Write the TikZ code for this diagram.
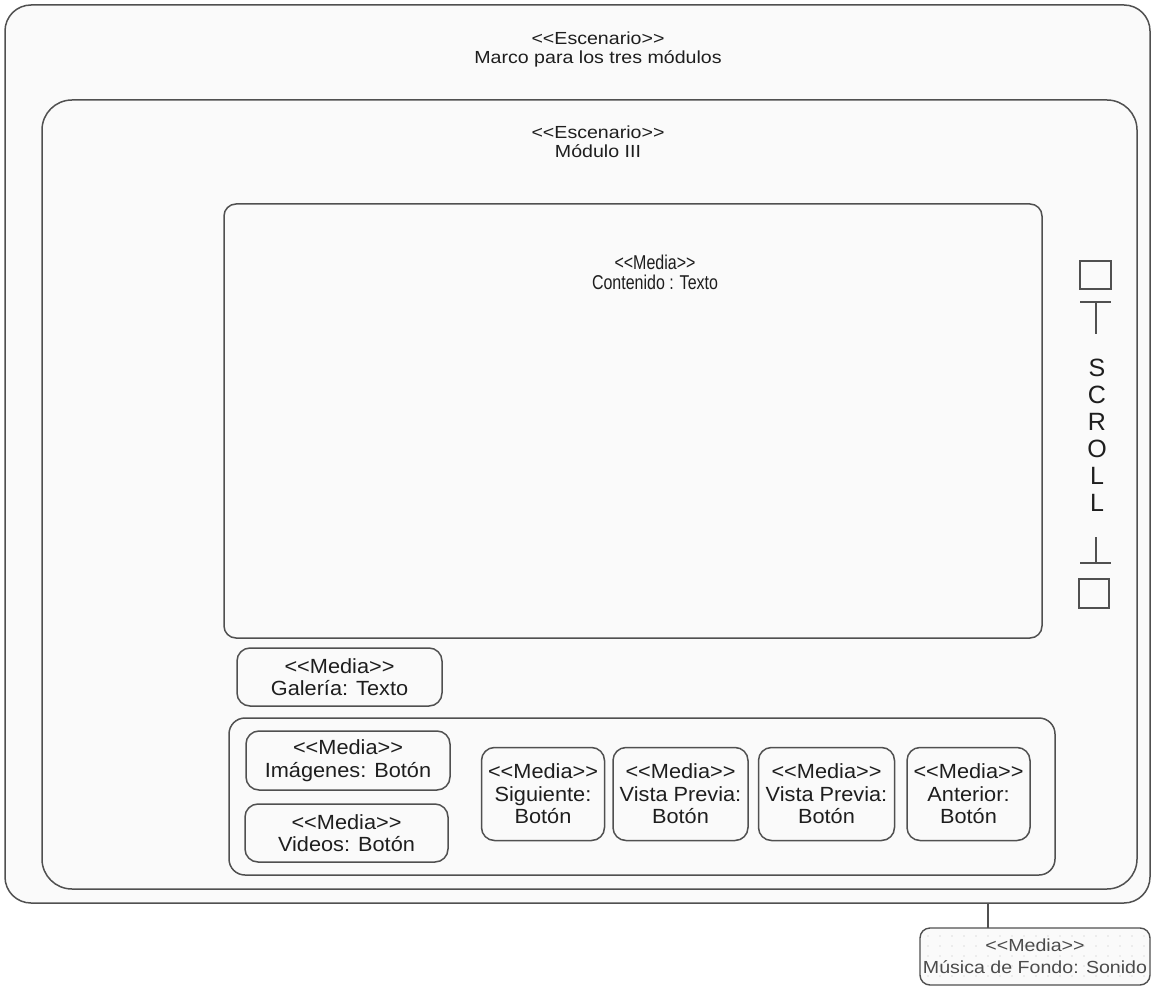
\documentclass[tikz,border=0pt]{standalone}
\usepackage{fontspec}
\setmainfont{Liberation Sans}
\newfontfamily\wideface[FakeStretch=1.12]{Liberation Sans}
\newfontfamily\mediaface[FakeStretch=1.06]{Liberation Sans}
\newfontfamily\narrowface[FakeStretch=0.8]{Liberation Sans}
\definecolor{linec}{HTML}{505050}
\definecolor{txt}{HTML}{1E1E1E}
\definecolor{bg}{HTML}{FAFAFA}
\definecolor{dotc}{HTML}{BEBEBE}
\tikzset{
  frame/.style={draw=linec, line width=1.5pt, fill=bg, inner sep=0pt},
  mediabox/.style={draw=linec, line width=1.5pt, fill=bg, inner sep=0pt,
    rounded corners=13pt, align=center, text=txt,
    font=\mediaface\fontsize{20.5}{22.5}\selectfont},
  title/.style={align=center, text=txt, inner sep=0pt,
    font=\wideface\fontsize{17.5}{19}\selectfont},
  scrollline/.style={draw=linec, line width=1.4pt},
  scrollchar/.style={text=txt, inner sep=0pt, font=\fontsize{25}{25}\selectfont}
}
\begin{document}
\begin{tikzpicture}[x=1pt, y=-1pt]
  \useasboundingbox[fill=white] (0,0) rectangle (1151,987);

  % frame holding the three modules
  \node[frame, rounded corners=26pt, minimum width=1145pt, minimum height=898pt]
    (outer) at (577.5,454) {};
  \node[title] (outerlbl) at (598,49) {<<Escenario>>\\Marco para los tres módulos};

  % module III frame
  \node[frame, rounded corners=30pt, minimum width=1095pt, minimum height=789pt]
    (modulo) at (589.5,494.5) {};
  \node[title] (modlbl) at (598,142) {<<Escenario>>\\Módulo III};

  % text content area
  \node[frame, rounded corners=12pt, minimum width=818pt, minimum height=434pt]
    (content) at (633,421) {};
  \node[align=center, text=txt, inner sep=0pt,
    font=\narrowface\fontsize{20}{20}\selectfont] (contlbl) at (655,272)
    {<<Media>>\\Contenido : Texto};

  % gallery caption
  \node[mediabox, minimum width=205pt, minimum height=58pt] (gal) at (339.5,677)
    {<<Media>>\\Galería: Texto};

  % navigation bar
  \node[frame, rounded corners=16pt, minimum width=826pt, minimum height=157pt]
    (nav) at (642,796.5) {};
  \node[mediabox, minimum width=204pt, minimum height=59pt] (img) at (348,760.5)
    {<<Media>>\\Imágenes: Botón};
  \node[mediabox, minimum width=203pt, minimum height=58pt] (vid) at (346.5,833)
    {<<Media>>\\Videos: Botón};
  \node[mediabox, minimum width=123pt, minimum height=93pt] (sig) at (543,794)
    {<<Media>>\\Siguiente:\\Botón};
  \node[mediabox, minimum width=135pt, minimum height=93pt] (vp1) at (680.5,794)
    {<<Media>>\\Vista Previa:\\Botón};
  \node[mediabox, minimum width=136pt, minimum height=93pt] (vp2) at (826.5,794)
    {<<Media>>\\Vista Previa:\\Botón};
  \node[mediabox, minimum width=123pt, minimum height=93pt] (ant) at (968.5,794)
    {<<Media>>\\Anterior:\\Botón};

  % scroll bar
  \draw[scrollline] (1080,261) rectangle (1111,289);
  \draw[scrollline] (1080,302) -- (1111,302) (1096,302) -- (1096,334);
  \foreach \c [count=\i] in {S,C,R,O,L,L}
    \node[scrollchar] (sc\i) at (1097,341+27*\i) {\c};
  \draw[scrollline] (1096,537) -- (1096,563) (1080,563) -- (1111,563);
  \draw[scrollline] (1079,579) rectangle (1109,608);

  % background music
  \node[draw=linec, line width=1.4pt, fill=bg, rounded corners=10pt, inner sep=0pt,
    minimum width=230pt, minimum height=57pt] (music) at (1035,956.5) {};
  \foreach \xx in {928,940,...,1144}
    \foreach \yy in {936,946,...,980}
      \fill[dotc] (\xx,\yy) circle (0.7pt);
  \node[align=center, text=txt!80, inner sep=0pt,
    font=\wideface\fontsize{17.5}{22}\selectfont] (musiclbl) at (1035,956)
    {<<Media>>\\Música de Fondo: Sonido};
  \coordinate (mtop) at (988,928);
  \draw[draw=linec, line width=1.5pt] (mtop |- outer.south) -- (mtop);
\end{tikzpicture}
\end{document}
